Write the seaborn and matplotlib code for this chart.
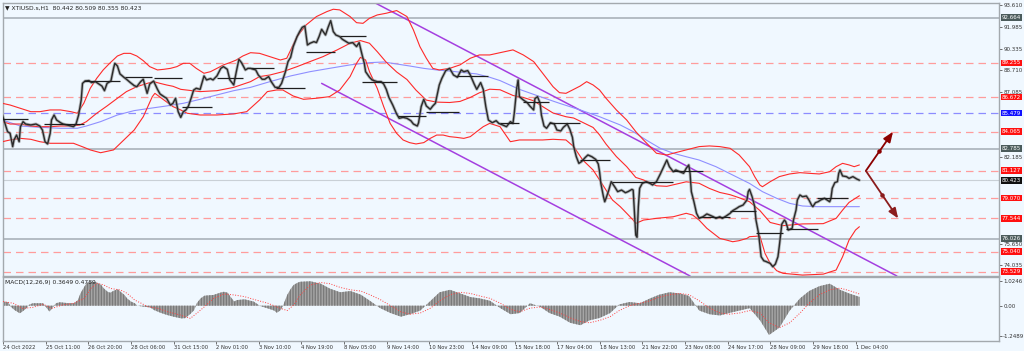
import matplotlib
matplotlib.use("Agg")
import matplotlib.pyplot as plt
import seaborn as sns

# ---- price (H1 bars, close values) ----
price_bar = [0, 2, 4, 6, 8, 9, 11, 13, 14, 16, 18, 22, 26, 29, 31, 33, 35, 37, 38, 40,
             42, 45, 47, 50, 53, 55, 57, 59, 61, 62, 64, 67, 69, 72, 74, 77, 79, 81, 84, 86,
             87, 89, 91, 94, 96, 99, 102, 104, 107, 109, 112, 114, 117, 120, 122, 125, 127, 130, 132, 134,
             136, 138, 140, 142, 144, 146, 148, 150, 153, 156, 158, 161, 163, 166, 169, 171, 174, 176, 179, 181,
             183, 185, 188, 190, 192, 196, 198, 201, 203, 206, 208, 211, 214, 216, 219, 221, 223, 225, 228, 230,
             232, 234, 236, 238, 241, 243, 245, 247, 250, 252, 254, 256, 258, 261, 263, 266, 268, 271, 274, 276,
             278, 280, 281, 284, 286, 290, 293, 295, 297, 299, 302, 305, 307, 310, 313, 316, 318, 321, 322, 324,
             326, 328, 331, 333, 335, 338, 340, 343, 346, 349, 352, 355, 357, 360, 362, 365, 367, 370, 372, 374,
             376, 379, 382, 384, 387, 390, 393, 395, 396, 398, 399, 400, 403, 406, 408, 411, 412, 414, 416, 417,
             419, 421, 424, 427, 429, 432, 434, 437, 439, 441, 442, 444, 446, 448, 451, 453, 456, 459, 461, 462,
             463, 465, 466, 467, 469, 471, 474, 476, 479, 482, 484, 487, 488, 489, 490, 491, 492, 493, 495, 498,
             501, 503, 506, 509, 511, 514, 516, 519, 521, 524, 527, 529, 531, 532, 533, 535, 537, 539, 542, 545,
             547, 550, 552, 555, 557, 560, 563, 565, 568, 570, 573, 576, 577, 578, 580, 582, 583, 585, 586, 587,
             589, 591, 594, 596, 598, 600, 601, 602, 603, 605, 606, 608, 611, 612, 614, 615, 617, 619, 622, 624,
             626, 627, 629, 631, 633, 636, 638, 640, 641, 642, 644, 646, 647, 648, 650, 653, 655, 658, 661, 663]
price_close = [85.33, 84.70, 84.08, 83.95, 82.95, 83.45, 83.82, 83.32, 84.45, 84.83, 84.65, 84.58, 84.65, 84.50, 84.20, 83.32, 83.15, 83.95, 84.95, 85.33,
               84.95, 84.75, 84.65, 84.58, 84.50, 84.45, 84.65, 85.33, 86.46, 87.71, 87.89, 87.92, 87.77, 87.84, 87.71, 87.51, 87.16, 87.71, 87.89, 88.84,
               89.22, 89.02, 88.42, 88.17, 88.02, 87.77, 87.54, 87.46, 87.84, 88.02, 86.96, 87.66, 87.89, 87.26, 86.91, 86.71, 86.59, 86.08, 86.21, 86.59,
               85.58, 85.15, 85.58, 85.71, 86.01, 86.59, 87.21, 87.34, 87.26, 88.27, 87.97, 88.07, 87.97, 88.27, 88.84, 88.97, 88.77, 87.97, 87.59, 88.59,
               89.52, 89.27, 88.72, 88.84, 88.84, 88.72, 88.34, 88.02, 88.02, 88.22, 87.84, 87.41, 87.41, 87.71, 88.59, 89.35, 89.67, 90.48, 91.23, 91.61,
               91.93, 92.03, 90.60, 90.73, 90.85, 90.78, 91.23, 91.78, 91.35, 91.93, 92.43, 91.61, 91.35, 91.23, 91.03, 90.85, 90.73, 90.78, 90.48, 90.78,
               89.97, 89.22, 88.59, 88.17, 87.97, 87.84, 87.84, 87.66, 87.26, 86.66, 86.08, 85.41, 85.08, 85.15, 85.08, 84.90, 84.65, 84.50, 84.75, 85.96,
               86.51, 86.01, 85.76, 86.01, 86.21, 87.59, 88.09, 88.67, 88.84, 88.34, 88.17, 88.72, 88.59, 88.67, 88.34, 87.66, 87.26, 87.77, 87.26, 85.96,
               84.95, 84.75, 84.90, 84.70, 84.58, 84.45, 84.83, 84.70, 85.46, 87.41, 87.97, 86.71, 86.46, 86.26, 86.01, 85.71, 86.56, 86.71, 86.21, 85.33,
               84.50, 84.33, 84.75, 84.65, 84.20, 84.13, 84.40, 84.65, 84.25, 83.65, 82.95, 82.19, 81.69, 81.82, 82.14, 82.32, 82.19, 81.99, 81.64, 81.06,
               80.18, 79.18, 78.80, 79.06, 79.63, 80.31, 79.88, 79.56, 79.68, 79.48, 79.56, 79.73, 79.68, 77.93, 76.29, 76.12, 78.43, 79.81, 80.18, 80.31,
               80.18, 80.06, 80.31, 80.89, 81.31, 81.94, 81.44, 81.06, 81.19, 81.06, 80.94, 81.31, 81.57, 80.94, 79.56, 78.80, 77.93, 77.55, 77.67, 77.88,
               77.80, 77.67, 77.55, 77.67, 77.55, 77.73, 77.93, 78.13, 78.30, 78.43, 78.55, 78.93, 79.56, 79.73, 79.18, 78.43, 77.42, 76.42, 75.54, 74.66,
               74.36, 74.29, 74.16, 73.91, 74.11, 74.66, 75.42, 76.29, 77.12, 77.42, 77.30, 76.67, 76.80, 77.42, 78.18, 78.93, 79.31, 79.18, 79.23, 78.93,
               78.55, 78.43, 78.73, 78.80, 78.93, 79.06, 78.93, 78.80, 79.06, 79.81, 80.24, 80.31, 80.94, 81.19, 80.74, 80.69, 80.56, 80.69, 80.51, 80.42]

# ---- Bollinger bands and moving average ----
upper_bar = [0, 6, 14, 22, 29, 37, 45, 53, 58, 63, 68, 73, 78, 83, 89, 94, 99, 104, 109, 114,
             120, 125, 130, 135, 140, 145, 150, 156, 161, 166, 171, 176, 181, 186, 192, 199, 207, 215, 220, 228,
             235, 243, 251, 256, 261, 269, 274, 279, 284, 290, 297, 305, 313, 318, 323, 328, 333, 338, 346, 354,
             362, 369, 377, 385, 395, 403, 411, 418, 426, 431, 436, 442, 447, 452, 457, 462, 467, 475, 483, 490,
             496, 501, 506, 514, 521, 529, 539, 547, 555, 563, 570, 578, 582, 586, 588, 594, 601, 609, 617, 624,
             632, 640, 645, 650, 655, 659, 663]
upper_val = [86.21, 86.08, 85.83, 85.58, 85.58, 85.71, 85.71, 85.58, 85.46, 86.21, 87.34, 88.09, 88.72, 89.22, 89.77, 89.97, 89.97, 89.77, 89.42, 88.97,
             88.72, 88.77, 88.84, 88.97, 89.22, 89.22, 88.84, 88.47, 88.59, 88.84, 89.10, 89.27, 89.47, 89.77, 90.02, 89.97, 89.72, 89.47, 89.60, 91.23,
             92.11, 92.74, 93.11, 93.29, 93.24, 92.74, 92.28, 92.23, 92.61, 92.86, 92.99, 93.19, 92.74, 91.73, 90.48, 89.60, 88.84, 88.72, 88.84, 89.10,
             89.60, 89.85, 89.85, 90.02, 90.23, 89.85, 89.35, 88.47, 87.46, 87.01, 86.96, 87.26, 87.51, 87.84, 87.59, 87.21, 86.59, 85.71, 84.95, 84.08,
             83.45, 82.95, 82.45, 82.32, 82.50, 82.70, 82.95, 83.00, 82.95, 82.82, 82.32, 81.44, 80.69, 80.06, 79.93, 80.31, 80.69, 80.89, 80.99, 80.94,
             80.89, 81.06, 81.44, 81.69, 81.57, 81.44, 81.57]

middle_bar = [0, 6, 14, 22, 29, 37, 45, 53, 60, 65, 73, 81, 89, 96, 104, 112, 117, 122, 127, 132,
              138, 153, 166, 179, 192, 199, 207, 217, 228, 238, 248, 259, 269, 277, 284, 290, 297, 305, 313, 320,
              328, 336, 346, 354, 362, 369, 377, 385, 395, 403, 411, 418, 426, 436, 442, 449, 457, 462, 467, 475,
              483, 490, 496, 506, 514, 529, 539, 547, 555, 563, 570, 578, 586, 594, 604, 619, 635, 645, 650, 655,
              663]
middle_val = [84.83, 84.65, 84.65, 84.50, 84.45, 84.45, 84.50, 84.50, 84.58, 84.83, 85.46, 86.01, 86.59, 87.09, 87.46, 87.71, 87.84, 87.71, 87.59, 87.49,
              87.26, 87.09, 87.16, 87.41, 87.84, 88.22, 88.34, 88.59, 88.97, 89.35, 89.72, 90.23, 90.73, 90.93, 90.73, 90.10, 89.30, 88.57, 88.00, 87.20,
              86.45, 86.30, 86.27, 86.35, 86.65, 87.00, 87.27, 87.23, 86.80, 86.65, 86.40, 85.96, 85.48, 85.20, 85.10, 84.77, 84.39, 83.83, 83.14, 82.20,
              81.44, 80.63, 80.44, 80.00, 79.96, 80.30, 80.19, 79.80, 79.50, 79.33, 79.10, 78.80, 78.14, 77.24, 77.00, 77.13, 77.15, 77.55, 78.17, 78.75,
              79.25]

lower_bar = [0, 6, 14, 22, 29, 37, 45, 55, 63, 68, 76, 86, 94, 102, 109, 116, 118, 125, 132, 138,
             143, 153, 166, 179, 189, 199, 205, 212, 217, 225, 233, 243, 253, 261, 269, 274, 277, 281, 284, 290,
             295, 300, 305, 310, 315, 320, 326, 331, 336, 341, 346, 351, 357, 362, 367, 372, 377, 385, 393, 400,
             411, 418, 426, 436, 442, 449, 457, 462, 467, 472, 478, 483, 488, 490, 496, 506, 519, 529, 534, 539,
             545, 550, 555, 560, 565, 570, 576, 578, 586, 590, 594, 599, 604, 619, 635, 645, 650, 655, 660, 663]
lower_val = [83.32, 83.45, 83.57, 83.50, 83.32, 83.20, 83.20, 83.20, 82.90, 82.70, 82.49, 82.70, 83.45, 84.20, 85.20, 86.71, 86.96, 86.46, 85.96, 85.71,
             85.46, 85.33, 85.33, 85.41, 85.58, 86.46, 87.09, 87.21, 87.21, 86.76, 86.51, 86.59, 86.71, 87.21, 88.22, 89.22, 89.67, 89.47, 88.59, 87.34,
             85.96, 84.70, 83.95, 83.45, 83.25, 83.15, 83.25, 83.57, 83.82, 83.82, 83.70, 83.65, 83.57, 83.70, 84.08, 84.45, 84.70, 84.45, 83.32, 83.45,
             83.45, 83.45, 83.50, 83.45, 82.95, 81.94, 81.19, 80.44, 79.68, 78.93, 78.43, 77.93, 77.42, 77.17, 77.42, 77.55, 77.67, 77.93, 77.80, 77.42,
             76.80, 76.42, 76.04, 75.92, 75.79, 75.87, 76.04, 76.17, 76.22, 74.91, 74.16, 73.61, 73.41, 73.28, 73.35, 73.66, 74.66, 75.92, 76.67, 76.92]

ma_bar = [0, 14, 29, 45, 58, 65, 76, 89, 102, 114, 127, 140, 153, 166, 179, 192, 207, 223, 238, 253,
          269, 284, 295, 305, 315, 326, 336, 346, 357, 367, 377, 385, 400, 416, 431, 447, 462, 478, 488, 498,
          509, 519, 529, 539, 552, 565, 578, 588, 599, 609, 619, 630, 640, 650, 663]
ma_val = [84.95, 84.50, 84.40, 84.33, 84.33, 84.50, 84.83, 85.33, 85.66, 85.83, 86.01, 86.21, 86.51, 86.84, 87.16, 87.41, 87.84, 88.27, 88.59, 88.84,
          89.10, 89.27, 89.32, 89.17, 89.02, 88.84, 88.72, 88.64, 88.52, 88.42, 88.17, 87.92, 87.26, 86.71, 86.21, 85.71, 85.20, 84.58, 84.08, 83.45,
          82.82, 82.45, 82.19, 81.94, 81.44, 80.81, 80.18, 79.56, 79.06, 78.68, 78.48, 78.43, 78.43, 78.43, 78.43]

# ---- drawn objects: levels, channel, pivots, scenario arrows ----
level_red = [89.255, 86.672, 84.065, 81.127, 79.070, 77.544, 75.040, 73.529]
level_blue = [85.479]
level_grey = [92.664, 82.785, 76.026]
last_price = 80.423
channel_upper = [(284, 93.99), (692, 73.21)]
channel_lower = [(247, 87.71), (532, 73.21)]
pivot_start = [0, 32, 63, 95, 117, 139, 166, 192, 212, 235, 261, 278, 306, 328, 351, 385, 403, 423, 447, 472,
               497, 519, 539, 563, 583, 606, 630]
pivot_end = [20, 63, 91, 116, 139, 162, 186, 210, 234, 257, 281, 305, 328, 353, 376, 400, 423, 447, 470, 497,
             519, 542, 563, 583, 604, 631, 654]
pivot_price = [85.00, 84.65, 87.89, 88.17, 88.09, 85.91, 88.09, 88.84, 87.34, 90.10, 91.28, 87.84, 85.26, 85.58, 88.27, 84.75, 86.33, 84.75, 81.94, 80.28,
               80.31, 81.14, 77.62, 78.13, 76.42, 76.72, 79.06]
arrow_origin = (668, 81.127)
arrow_up_to = (689, 84.065)
arrow_down_to = (693, 77.544)

# ---- MACD(12,26,9) ----
macd_bar = [0, 4, 6, 9, 13, 15, 18, 20, 23, 31, 33, 36, 38, 41, 44, 51, 55, 58, 60, 63,
            65, 69, 72, 76, 78, 81, 83, 86, 89, 91, 94, 96, 99, 102, 104, 109, 114, 117, 122, 127,
            132, 138, 141, 145, 148, 150, 153, 156, 163, 168, 171, 174, 176, 179, 181, 187, 194, 199, 205, 210,
            212, 215, 217, 220, 223, 225, 228, 230, 238, 246, 253, 261, 269, 277, 284, 292, 300, 308, 315, 323,
            331, 338, 346, 354, 362, 369, 377, 385, 393, 400, 408, 416, 423, 431, 439, 447, 454, 462, 470, 477,
            485, 493, 501, 508, 516, 524, 531, 539, 547, 555, 562, 570, 578, 586, 593, 601, 609, 617, 624, 632,
            640, 648, 655, 663]
macd_val = [0.17, 0.14, -0.04, -0.18, -0.31, -0.24, -0.11, 0.03, 0.10, 0.10, -0.04, -0.24, -0.11, 0.10, 0.14, 0.10, 0.10, 0.23, 0.51, 0.78,
            0.94, 0.98, 0.96, 0.85, 0.71, 0.57, 0.53, 0.62, 0.67, 0.57, 0.44, 0.30, 0.17, 0.10, 0.00, -0.04, -0.07, -0.18, -0.29, -0.38,
            -0.45, -0.52, -0.51, -0.34, -0.18, 0.10, 0.30, 0.41, 0.44, 0.53, 0.57, 0.53, 0.37, 0.17, 0.23, 0.26, 0.17, -0.01, -0.11, -0.20,
            -0.29, -0.18, 0.03, 0.44, 0.71, 0.85, 0.94, 0.98, 1.00, 0.90, 0.70, 0.55, 0.60, 0.45, 0.20, -0.10, -0.30, -0.45, -0.35, -0.20,
            0.20, 0.55, 0.65, 0.50, 0.35, 0.30, 0.20, -0.10, -0.35, -0.30, 0.10, -0.05, -0.30, -0.45, -0.70, -0.80, -0.60, -0.50, -0.30, 0.05,
            0.15, 0.10, 0.30, 0.45, 0.55, 0.50, 0.40, -0.20, -0.35, -0.40, -0.30, -0.20, -0.10, -0.60, -1.20, -0.90, -0.20, 0.30, 0.60, 0.80,
            0.90, 0.65, 0.50, 0.36]
signal_bar = [0, 8, 15, 23, 31, 38, 46, 55, 63, 68, 73, 78, 83, 91, 96, 102, 107, 112, 120, 127,
              137, 145, 150, 156, 163, 171, 179, 187, 194, 205, 215, 220, 225, 230, 238, 246, 253, 261, 269, 277,
              284, 292, 300, 308, 315, 323, 331, 338, 346, 354, 362, 369, 377, 385, 393, 400, 408, 416, 423, 431,
              439, 447, 454, 462, 470, 477, 485, 493, 501, 508, 516, 524, 531, 539, 547, 555, 562, 570, 578, 586,
              593, 601, 609, 617, 624, 632, 640, 648, 655, 663]
signal_val = [0.17, 0.10, -0.11, -0.07, 0.06, -0.11, 0.03, 0.10, 0.30, 0.71, 0.92, 0.85, 0.71, 0.64, 0.51, 0.23, 0.10, -0.04, -0.11, -0.24,
              -0.38, -0.52, -0.31, -0.04, 0.30, 0.48, 0.44, 0.37, 0.26, 0.10, -0.11, -0.20, 0.03, 0.44, 0.85, 0.95, 0.90, 0.75, 0.65, 0.60,
              0.45, 0.25, 0.00, -0.25, -0.35, -0.30, -0.10, 0.20, 0.45, 0.55, 0.50, 0.40, 0.30, 0.10, -0.15, -0.25, -0.10, -0.05, -0.15, -0.30,
              -0.50, -0.65, -0.70, -0.60, -0.45, -0.20, 0.00, 0.10, 0.20, 0.35, 0.45, 0.50, 0.45, 0.20, -0.10, -0.30, -0.35, -0.30, -0.20, -0.30,
              -0.70, -0.90, -0.70, -0.30, 0.10, 0.45, 0.65, 0.72, 0.62, 0.48]

# ---- axes labels ----
xtick_bars = [0, 33, 66, 99, 132, 165, 198, 231, 264, 297, 330, 363, 396, 429, 462, 495, 528, 561, 594, 627, 660]
xtick_labels = ["24 Oct 2022", "25 Oct 11:00", "26 Oct 20:00", "28 Oct 06:00", "31 Oct 15:00", "2 Nov 01:00",
                "3 Nov 10:00", "4 Nov 19:00", "8 Nov 05:00", "9 Nov 14:00", "10 Nov 23:00", "14 Nov 09:00",
                "15 Nov 18:00", "17 Nov 04:00", "18 Nov 13:00", "21 Nov 22:00", "23 Nov 08:00", "24 Nov 17:00",
                "28 Nov 09:00", "29 Nov 18:00", "1 Dec 04:00"]
price_ticks = [93.610, 91.985, 90.335, 88.710, 87.085, 82.185, 75.650, 74.035]
macd_ticks = [1.0246, 0.0, -1.2489]
macd_tick_labels = ["1.0246", "0.00", "-1.2489"]

BG = "#f0f8ff"
FRAME = "#a3a9ae"
LBL = 4.0

sns.set_theme(style="white")
plt.rcParams["font.family"] = ["DejaVu Sans"]

fig = plt.figure(figsize=(10.24, 3.51), dpi=100, facecolor=BG)
ax = fig.add_axes([3 / 1024, 1 - 276 / 351, 996 / 1024, 273 / 351], facecolor=BG)
axm = fig.add_axes([3 / 1024, 1 - 341 / 351, 996 / 1024, 64 / 351], facecolor=BG)

# levels
for lv in level_red:
    ax.axhline(lv, color="#ff9c9c", lw=0.9, ls=(0, (6, 4)), zorder=1)
for lv in level_blue:
    ax.axhline(lv, color="#8c8cff", lw=0.9, ls=(0, (6, 4)), zorder=1)
for lv in level_grey:
    ax.axhline(lv, color="#b4bcc4", lw=1.4, zorder=1)
ax.axhline(last_price, color="#c9d0d6", lw=0.8, zorder=1)

# channel
for (x0, y0), (x1, y1) in [channel_upper, channel_lower]:
    ax.plot([x0, x1], [y0, y1], color="#a43fe0", lw=1.1, zorder=2)

# bands
sns.lineplot(x=ma_bar, y=ma_val, ax=ax, color="#8f8fff", lw=0.8, estimator=None, zorder=3)
for bx, by in [(upper_bar, upper_val), (middle_bar, middle_val), (lower_bar, lower_val)]:
    sns.lineplot(x=bx, y=by, ax=ax, color="#ff2a2a", lw=0.8, estimator=None, zorder=3)

# price
ax.plot(price_bar, price_close, color="#8c8c8c", lw=2.2, alpha=0.6, zorder=4)
sns.lineplot(x=price_bar, y=price_close, ax=ax, color="#2a2a2a", lw=1.0, estimator=None, zorder=5)

# pivots
ax.hlines(pivot_price, pivot_start, pivot_end, color="#1e1e1e", lw=0.9, zorder=6)

# scenario arrows
for tip, col in [(arrow_up_to, "#8b0000"), (arrow_down_to, "#8b1c1c")]:
    ax.annotate("", xy=tip, xytext=arrow_origin,
                arrowprops=dict(arrowstyle="-|>,head_length=0.5,head_width=0.2", color=col, lw=1.3,
                                shrinkA=0, shrinkB=0), zorder=7)
    mid = ((arrow_origin[0] + tip[0]) / 2, (arrow_origin[1] + tip[1]) / 2)
    ax.scatter([mid[0]], [mid[1]], s=5, color=col, zorder=7)

ax.set_xlim(0.5, 771)
ax.set_ylim(73.21, 93.76)
ax.set_xticks([])
ax.yaxis.tick_right()
ax.set_yticks(price_ticks)
ax.set_yticklabels([f"{t:.3f}" for t in price_ticks])
ax.tick_params(axis="y", labelsize=LBL, length=2, width=0.6, pad=1, colors="#555555", labelcolor="#333333", right=True)
for s in ax.spines.values():
    s.set_color(FRAME)
    s.set_linewidth(1.0)

# boxed price labels
box_levels = [(92.664, "#4b5b5b"), (89.255, "#ff1010"), (86.672, "#ff1010"), (85.479, "#1010ff"),
              (84.065, "#ff1010"), (82.785, "#4b5b5b"), (81.127, "#ff1010"), (80.423, "#101010"),
              (79.070, "#ff1010"), (77.544, "#ff1010"), (76.026, "#4b5b5b"), (75.040, "#ff1010"),
              (73.529, "#ff1010")]
for val, col in box_levels:
    ax.text(1.0025, val, f"{val:.3f}", transform=ax.get_yaxis_transform(), fontsize=LBL, color="white",
            ha="left", va="center", bbox=dict(boxstyle="square,pad=0.15", fc=col, ec="none"), clip_on=False)

ax.text(0.002, 0.992, "\u25bc XTIUSD.s,H1  80.442 80.509 80.355 80.423", transform=ax.transAxes,
        fontsize=4.3, va="top", ha="left", color="#222222")

# MACD panel
axm.fill_between(macd_bar, macd_val, 0, facecolor="#a6a6a6", edgecolor="#7a7a7a", hatch="||||||", lw=0, zorder=2)
sns.lineplot(x=signal_bar, y=signal_val, ax=axm, color="#ff4040", lw=0.7, linestyle=":", estimator=None, zorder=3)
axm.set_xlim(0.5, 771)
axm.set_ylim(-1.447, 1.176)
axm.yaxis.tick_right()
axm.set_yticks(macd_ticks)
axm.set_yticklabels(macd_tick_labels)
axm.set_xticks(xtick_bars)
axm.set_xticklabels(xtick_labels, ha="left")
axm.tick_params(axis="y", labelsize=LBL, length=2, width=0.6, pad=1, colors="#555555", labelcolor="#333333", right=True)
axm.tick_params(axis="x", labelsize=3.8, length=2, width=0.6, pad=1, colors="#555555", labelcolor="#333333", bottom=True)
for s in axm.spines.values():
    s.set_color(FRAME)
    s.set_linewidth(1.0)
axm.text(0.002, 0.96, "MACD(12,26,9) 0.3649 0.4789", transform=axm.transAxes, fontsize=4.3,
         va="top", ha="left", color="#222222")

fig.savefig("out.png", dpi=100, facecolor=BG)
